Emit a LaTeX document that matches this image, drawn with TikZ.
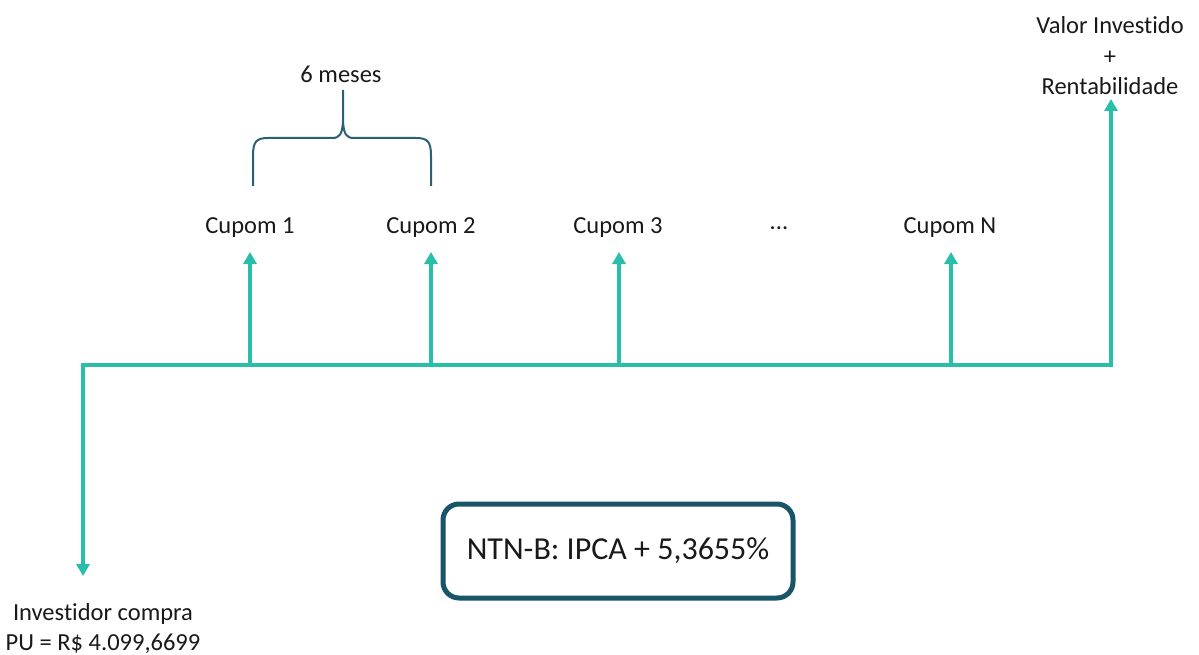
\documentclass[tikz,border=0pt]{standalone}
\usepackage{fontspec}
\setmainfont{Carlito}[Ligatures={NoCommon,NoRare,NoContextual}]
\usetikzlibrary{arrows.meta}
\definecolor{teal1}{RGB}{40,190,170}
\definecolor{brace}{RGB}{45,95,115}
\definecolor{boxc}{RGB}{25,85,105}
\definecolor{txt}{RGB}{25,25,25}
\tikzset{
  flow/.style={draw=teal1, line width=4pt, -{Triangle[length=12pt,width=13pt]}},
  lbl/.style={text=txt, font=\fontsize{24.5}{30}\selectfont, inner sep=0pt, align=center},
  bigbox/.style={draw=boxc, line width=5pt, rounded corners=16pt, minimum width=350pt, minimum height=94pt, text=txt, font=\fontsize{32}{38}\selectfont}
}
\begin{document}
\begin{tikzpicture}[x=1pt,y=-1pt]
\useasboundingbox (0,0) rectangle (1199,655);
% axis points
\coordinate (a0) at (83,365);
\coordinate (a1) at (250,365);
\coordinate (a2) at (431,365);
\coordinate (a3) at (619,365);
\coordinate (a4) at (951,365);
\coordinate (aE) at (1111,365);
\coordinate (t1) at (250,252);
\coordinate (t2) at (431,252);
\coordinate (t3) at (619,252);
\coordinate (t4) at (951,252);
\coordinate (tE) at (1111,99);
\coordinate (tL) at (83,576);
% main timeline
\draw[draw=teal1, line width=4pt, {Triangle[length=12pt,width=13pt]}-{Triangle[length=12pt,width=13pt]}] (tL) -- (a0) -- (aE) -- (tE);
\foreach \i in {1,2,3,4} \draw[flow] (a\i) -- (t\i);
% labels
\node[lbl] (c1) at (250,228) {Cupom 1};
\node[lbl] (c2) at (431,228) {Cupom 2};
\node[lbl] (c3) at (618,228) {Cupom 3};
\node[lbl] (dots) at (779,228) {...};
\node[lbl] (cN) at (950,228) {Cupom N};
\node[lbl] (final) at (1110,56) {Valor Investido\\[0.5pt]+\\[0.5pt]Rentabilidade};
\node[lbl] (start) at (103,629) {Investidor compra\\PU = R\$ 4.099,6699};
\node[lbl] (six) at (341,74) {6 meses};
% brace
\draw[brace, line width=2pt] (253,186) -- (253,156) .. controls (253,142) and (256,138) .. (268,138) -- (332,138) .. controls (340,138) and (342,134) .. (343,122) -- (343,90);
\draw[brace, line width=2pt] (431,186) -- (431,156) .. controls (431,142) and (428,138) .. (416,138) -- (354,138) .. controls (346,138) and (344,134) .. (343,122);
% box
\node[bigbox] (ntnb) at (618,551) {NTN-B: IPCA + 5,3655\%};
\end{tikzpicture}
\end{document}
